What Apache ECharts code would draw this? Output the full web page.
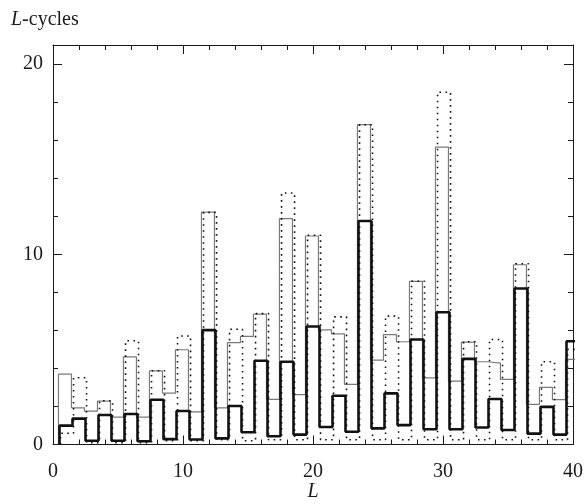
<!DOCTYPE html>
<html>
<head>
<meta charset="utf-8">
<script src="https://cdn.jsdelivr.net/npm/echarts@6/dist/echarts.min.js"></script>
<style>
  html, body { margin: 0; padding: 0; background: #fff; }
  #chart { width: 586px; height: 504px; }
</style>
</head>
<body>
<div id="chart"></div>
<script>
// cycle length L (one bin per integer)
const L = [1, 2, 3, 4, 5, 6, 7, 8, 9, 10, 11, 12, 13, 14, 15, 16, 17, 18, 19, 20,
  21, 22, 23, 24, 25, 26, 27, 28, 29, 30, 31, 32, 33, 34, 35, 36, 37, 38, 39, 40];

// thin grey histogram
const thinVals = [3.70, 1.93, 1.75, 2.28, 1.44, 4.61, 1.44, 3.87, 2.70, 4.98,
  1.72, 12.22, 1.93, 5.36, 5.68, 6.85, 2.37, 11.87, 2.62, 10.96,
  6.03, 5.82, 3.16, 16.81, 4.44, 5.78, 5.40, 8.58, 3.50, 15.63,
  3.33, 5.38, 4.35, 4.28, 3.42, 9.45, 2.11, 3.00, 2.36, 4.47];

// thick black histogram
const thickVals = [0.99, 1.36, 0.20, 1.55, 0.20, 1.60, 0.17, 2.35, 0.28, 1.76,
  0.26, 6.01, 0.32, 2.02, 0.64, 4.40, 0.43, 4.35, 0.52, 6.20,
  0.92, 2.56, 0.67, 11.75, 0.85, 2.69, 1.02, 5.52, 0.80, 6.95,
  0.80, 4.50, 0.89, 2.39, 0.76, 8.20, 0.57, 1.98, 0.52, 5.43];

// dotted histogram
const dotVals = [0.59, 3.51, 0.10, 2.30, 0.10, 5.45, 0.10, 3.88, 0.20, 5.70,
  0.20, 12.20, 0.25, 6.06, 0.20, 6.88, 0.25, 13.22, 0.25, 11.00,
  0.25, 6.71, 0.25, 16.81, 0.25, 6.75, 0.25, 8.58, 0.25, 18.52,
  0.25, 5.40, 0.25, 5.52, 0.25, 9.50, 0.25, 4.35, 0.25, 5.00];

const yTicks = [0, 10, 20];
const yMinor = [2, 4, 6, 8, 12, 14, 16, 18];

const FONT = 'Liberation Serif';
const INK = '#1a1a1a';

// histogram outline: point at each bin's left edge, step 'end'
function steps(vals, shift) {
  const pts = [[L[0] - 0.5 + shift, 0]];
  vals.forEach((v, i) => pts.push([L[i] - 0.5 + shift, v]));
  pts.push([L[L.length - 1] + 0.5 + shift, vals[vals.length - 1]]);
  return pts;
}

function xAxisDef(pos, labels) {
  return {
    type: 'value', min: 0, max: 40, interval: 10, position: pos,
    axisLine: { show: true, onZero: false, lineStyle: { color: INK, width: 1 } },
    axisTick: { show: true, inside: true, length: 9, lineStyle: { color: INK } },
    minorTick: { show: true, splitNumber: 5, length: 5, lineStyle: { color: INK } },
    axisLabel: { show: labels, fontFamily: FONT, fontSize: 20, color: INK, margin: 17 },
    splitLine: { show: false },
    minorSplitLine: { show: false },
    name: labels ? 'L' : '',
    nameLocation: 'middle',
    nameGap: 37,
    nameMoveOverlap: false,
    nameTextStyle: { fontFamily: FONT, fontSize: 20, fontStyle: 'italic', color: INK }
  };
}

function yAxisDef(pos, values, len, labels, line) {
  return {
    type: 'value', min: 0, max: 21, position: pos,
    axisLine: { show: line, onZero: false, lineStyle: { color: INK, width: 1 } },
    axisTick: { show: true, inside: true, length: len, customValues: values, lineStyle: { color: INK } },
    axisLabel: { show: labels, customValues: yTicks, fontFamily: FONT, fontSize: 20, color: INK, margin: 10 },
    splitLine: { show: false }
  };
}

const chart = echarts.init(document.getElementById('chart'), null, { renderer: 'canvas' });

chart.setOption({
  animation: false,
  backgroundColor: '#fff',
  title: {
    text: '{i|L}-cycles',
    left: 6, top: 5,
    textStyle: {
      fontFamily: FONT, fontSize: 20, fontWeight: 'normal', color: INK,
      rich: { i: { fontFamily: FONT, fontSize: 20, fontStyle: 'italic', color: INK } }
    }
  },
  grid: { left: 53, right: 13, top: 45, bottom: 59.5, containLabel: false, outerBoundsMode: 'none' },
  xAxis: [xAxisDef('bottom', true), xAxisDef('top', false)],
  yAxis: [
    yAxisDef('left', yTicks, 9, true, true),
    yAxisDef('left', yMinor, 5, false, false),
    yAxisDef('right', yTicks, 9, false, true),
    yAxisDef('right', yMinor, 5, false, false)
  ],
  series: [
    {
      name: 'thin', type: 'line', step: 'end', symbol: 'none',
      data: steps(thinVals, -0.08),
      lineStyle: { color: '#7a7a7a', width: 1.2 }
    },
    {
      name: 'dotted', type: 'line', step: 'end', symbol: 'none',
      data: steps(dotVals, 0.08),
      lineStyle: { color: '#111', width: 1.6, type: [1.6, 4.4] }
    },
    {
      name: 'thick', type: 'line', step: 'end', symbol: 'none',
      data: steps(thickVals, 0),
      lineStyle: { color: '#111', width: 2.6 }
    }
  ]
});
</script>
</body>
</html>
